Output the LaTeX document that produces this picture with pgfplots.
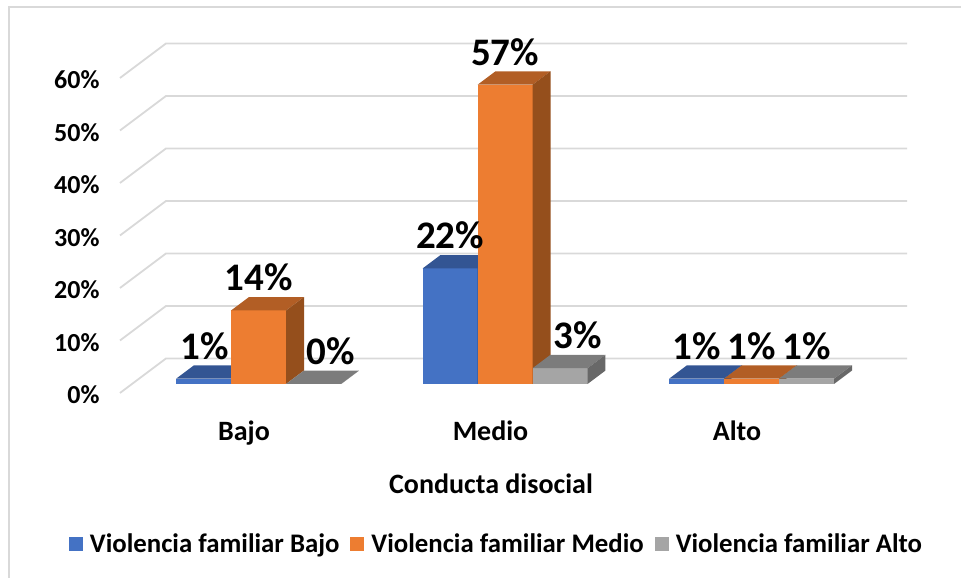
\documentclass[border=0pt]{standalone}
\usepackage{pgfplots}
\pgfplotsset{compat=1.18}
\usepackage{fontspec}
\setmainfont{Carlito}
\definecolor{gridc}{HTML}{D9D9D9}
\definecolor{bluef}{HTML}{4472C4}
\definecolor{bluet}{HTML}{335593}
\definecolor{blues}{HTML}{2C4A80}
\definecolor{orgf}{HTML}{ED7D31}
\definecolor{orgt}{HTML}{B25E25}
\definecolor{orgs}{HTML}{954F1C}
\definecolor{gryf}{HTML}{A5A5A5}
\definecolor{gryt}{HTML}{7C7C7C}
\definecolor{grys}{HTML}{686868}
% x unit = 246.5 px, y unit = 5.25 px, bar = 0.2231 wide, depth offset 0.073 / 2.57
\newcommand{\cube}[5]{%
  \pgfmathsetmacro\xa{#1-0.11155}
  \pgfmathsetmacro\xb{#1+0.11155}
  \pgfmathsetmacro\xc{#1-0.11155+0.073}
  \pgfmathsetmacro\xd{#1+0.11155+0.073}
  \pgfmathsetmacro\yt{#2+2.57}
  \addplot[fill=#3,draw=none,forget plot] coordinates {(\xa,0)(\xb,0)(\xb,#2)(\xa,#2)} --cycle;
  \addplot[fill=#4,draw=none,forget plot] coordinates {(\xa,#2)(\xb,#2)(\xd,\yt)(\xc,\yt)} --cycle;
  \addplot[fill=#5,draw=none,forget plot] coordinates {(\xb,0)(\xd,2.57)(\xd,\yt)(\xb,#2)} --cycle;
}
\newcommand{\lab}[3]{%
  \addplot[forget plot,only marks,mark=none,nodes near coords={#2\%},
    nodes near coords style={anchor=center,xshift=#3,yshift=33pt,text=black,
      font=\fontsize{39}{39}\selectfont\bfseries}] coordinates {(#1,#2)};
}
\newcommand{\gline}[1]{%
  \pgfmathsetmacro\ya{#1-1.71}
  \pgfmathsetmacro\yb{#1+4.86}
  \addplot[gridc,line width=1.8pt,forget plot] coordinates {(-0.5619,\ya)(-0.3753,\yb)(2.6308,\yb)};
}
\begin{document}
\begin{tikzpicture}[x=1pt,y=1pt]
\path[use as bounding box] (0,0) rectangle (961,578);
\draw[gridc,line width=2.4pt] (9,0) -- (9,571) -- (961,571);
\begin{axis}[
  at={(120pt,194pt)},anchor=south west,
  scale only axis,width=787pt,height=315pt,
  xmin=-0.5619,xmax=2.6308,ymin=0,ymax=60,
  clip=false,
  axis line style={draw=none},
  major tick length=0pt,
  ytick={0,10,...,60},
  yticklabel={\pgfmathprintnumber{\tick}\%},
  /pgf/number format/assume math mode=true,
  yticklabel style={anchor=east,xshift=-17pt,yshift=-11pt,text=black,
    font=\fontsize{26}{26}\selectfont\bfseries},
  xtick={0,1,2},
  xticklabels={Bajo,Medio,Alto},
  xticklabel style={anchor=center,xshift=-14.5pt,yshift=-51pt,
    font=\fontsize{28}{28}\selectfont\bfseries},
  typeset ticklabels with strut,
  xlabel={Conducta disocial},
  xlabel style={at={(axis description cs:0.4714,-0.3175)},anchor=center,
    font=\fontsize{28}{28}\selectfont\bfseries},
  legend columns=3,
  legend style={at={(axis description cs:0.4784,-0.508)},anchor=center,draw=none,fill=none,
    font=\fontsize{26.8}{26.8}\selectfont\bfseries,
    /tikz/every even column/.append style={column sep=9pt}},
  legend image code/.code={\fill[draw=none,#1] (0pt,-7pt) rectangle (14pt,7pt);\path[draw=none] (0pt,0pt) -- (19pt,0pt);},
]
\addlegendimage{bluef}\addlegendentry{Violencia familiar Bajo}
\addlegendimage{orgf}\addlegendentry{Violencia familiar Medio}
\addlegendimage{gryf}\addlegendentry{Violencia familiar Alto}

\gline{0}\gline{10}\gline{20}\gline{30}\gline{40}\gline{50}\gline{60}

% Violencia familiar Bajo
\cube{-0.2231}{1}{bluef}{bluet}{blues}
\cube{0.7769}{22}{bluef}{bluet}{blues}
\cube{1.7769}{1}{bluef}{bluet}{blues}
% Violencia familiar Medio
\cube{0}{14}{orgf}{orgt}{orgs}
\cube{1}{57}{orgf}{orgt}{orgs}
\cube{2}{1}{orgf}{orgt}{orgs}
% Violencia familiar Alto
\cube{0.2231}{0}{gryf}{gryt}{grys}
\cube{1.2231}{3}{gryf}{gryt}{grys}
\cube{2.2231}{1}{gryf}{gryt}{grys}

\lab{-0.2231}{1}{1.5pt}
\lab{0}{14}{0pt}
\lab{0.2231}{0}{17pt}
\lab{0.7769}{22}{0pt}
\lab{1}{57}{0pt}
\lab{1.2231}{3}{18pt}
\lab{1.7769}{1}{0pt}
\lab{2}{1}{0pt}
\lab{2.2231}{1}{0pt}
\end{axis}
\end{tikzpicture}
\end{document}
